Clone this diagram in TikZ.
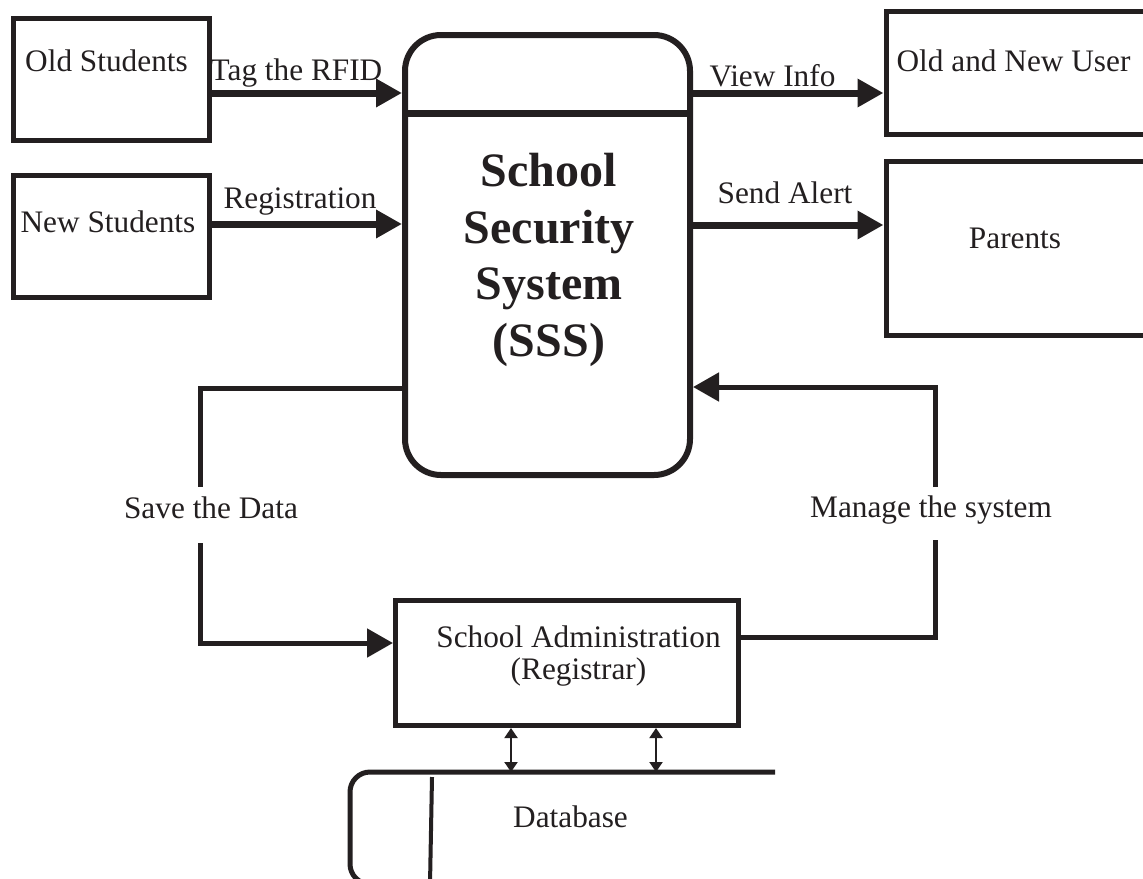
\documentclass[tikz,border=0pt]{standalone}
\usepackage{fontspec}
\setmainfont{Liberation Serif}
\usetikzlibrary{arrows.meta, positioning, calc}
\definecolor{inkblack}{HTML}{231F20}

\begin{document}
\begin{tikzpicture}[x=0.5pt, y=-0.5pt, line join=miter,
    entity/.style={rectangle, draw=inkblack, line width=2.5pt, inner sep=0pt},
    process/.style={rectangle, rounded corners=18pt, draw=inkblack, line width=3pt,
      minimum width=142.5pt, minimum height=220pt},
    title/.style={align=center, text=inkblack, inner sep=0pt,
      font=\fontsize{24}{28.2}\selectfont\bfseries},
    txt/.style={font=\fontsize{15.65}{16}\selectfont, inner sep=0pt, align=center, text=inkblack},
    flow/.style={draw=inkblack, line width=3.5pt, -{Triangle[length=13pt,width=13.5pt]}},
    link/.style={draw=inkblack, line width=2.5pt},
    linkarrow/.style={link, -{Triangle[length=13pt,width=14pt]}},
    dblarrow/.style={draw=inkblack, line width=1pt,
      {Triangle[length=5pt,width=6.5pt]}-{Triangle[length=5pt,width=6.5pt]}}]

    \useasboundingbox (0,0) rectangle (1143,878);
    \clip (0,0) rectangle (1143,878);

    % Left entities
    \node[entity, minimum width=98pt, minimum height=61pt] (oldst) at (111,79) {};
    \node[txt, anchor=base] (oldsttxt) at (106.5,71) {Old Students};
    \node[entity, minimum width=98pt, minimum height=61pt] (newst) at (111,236) {};
    \node[txt, anchor=base] (newsttxt) at (108,232) {New Students};

    % Central process
    \node[process] (ctr) at (547.5,255) {};
    \node[title] (ctrtxt) at (549,260) {School\\Security\\System\\(SSS)};
    \draw[draw=inkblack, line width=3.5pt] (ctr.west |- 0,113) -- (ctr.east |- 0,113);

    % Right entities
    \node[entity, minimum width=137pt, minimum height=61.25pt] (users) at (1023,73) {};
    \node[txt, anchor=base] (userstxt) at (1013.5,71) {Old and New User};
    \node[entity, minimum width=137pt, minimum height=87pt] (parents) at (1023,248.5) {};
    \node[txt, anchor=base] (parentstxt) at (1015,248) {Parents};

    % Registrar
    \node[entity, minimum width=171.5pt, minimum height=62.5pt] (admin) at (567,663) {};
    \node[txt] (admintxt) at (578.5,656) {School Administration\\(Registrar)};

    % Database store
    \coordinate (dbend) at (775,772);
    \draw[draw=inkblack, line width=2.5pt, rounded corners=10pt]
      (dbend) -- (350,772) -- (350,884) -- (775,884);
    \draw[draw=inkblack, line width=2pt] (432,777) -- (430,884);
    \node[txt, anchor=base] (dbtxt) at (570.5,827) {Database};

    % Flows in and out
    \draw[flow] (oldst.east |- 0,93) -- (ctr.west |- 0,93);
    \node[txt, anchor=base] (tag) at (296.5,80) {Tag the RFID};
    \draw[flow] (newst.east |- 0,224) -- (ctr.west |- 0,224);
    \node[txt, anchor=base] (reg) at (300,208) {Registration};
    \draw[flow] (ctr.east |- 0,93) -- (users.west |- 0,93);
    \node[txt, anchor=base] (view) at (772.5,86) {View Info};
    \draw[flow] (ctr.east |- 0,225) -- (parents.west |- 0,225);
    \node[txt, anchor=base] (alert) at (785,203) {Send Alert};

    % Save and manage loops
    \node[txt, anchor=base] (savelbl) at (211,518) {Save the Data};
    \coordinate (sv1) at (200,487);
    \coordinate (sv2) at (200,543);
    \draw[link] (ctr.west |- 0,388) -| (sv1);
    \draw[linkarrow] (sv2) |- (admin.west |- 0,643);

    \node[txt, anchor=base] (managelbl) at (931,517) {Manage the system};
    \coordinate (mg1) at (935,540);
    \coordinate (mg2) at (935,487);
    \draw[link] (admin.east |- 0,637) -| (mg1);
    \draw[linkarrow] (mg2) |- (ctr.east |- 0,387);

    % Registrar to database
    \foreach \x in {511,656}
      \draw[dblarrow] (admin.south -| \x,0) -- (dbend -| \x,0);
\end{tikzpicture}
\end{document}
